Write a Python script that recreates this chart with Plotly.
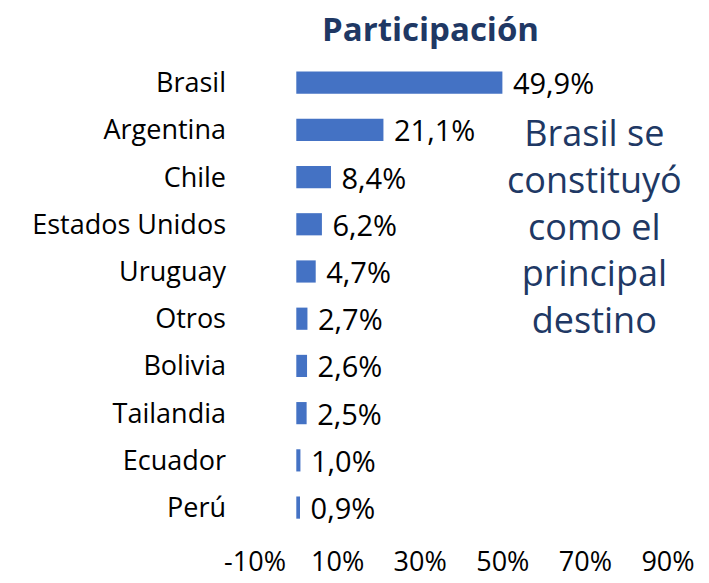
import plotly.graph_objects as go

countries = ["Brasil", "Argentina", "Chile", "Estados Unidos", "Uruguay",
             "Otros", "Bolivia", "Tailandia", "Ecuador", "Perú"]
shares = [49.9, 21.1, 8.4, 6.2, 4.7, 2.7, 2.6, 2.5, 1.0, 0.9]
tick_vals = [-10, 10, 30, 50, 70, 90]
tick_text = ["-10%", "10%", "30%", "50%", "70%", "90%"]
title_text = "Participación"
note_text = "Brasil se<br>constituyó<br>como el<br>principal<br>destino"

FONT = "'Open Sans', 'Noto Sans', sans-serif"

fig = go.Figure(go.Bar(
    x=shares, y=countries, orientation="h",
    marker=dict(color="#4472C4", line=dict(width=0)),
    width=0.47,
    texttemplate=" %{x:.1f}%", textposition="outside", cliponaxis=False,
    constraintext="none",
    textfont=dict(family=FONT, size=29, color="#000000"),
))

fig.update_layout(
    width=709, height=583,
    margin=dict(l=255, r=41, t=59, b=40, autoexpand=False),
    paper_bgcolor="white", plot_bgcolor="white",
    separators=",.",
    showlegend=False,
    font=dict(family=FONT, size=27, color="#000000"),
    xaxis=dict(range=[-10, 90], tickvals=tick_vals, ticktext=tick_text,
               showgrid=False, zeroline=False, showline=False, ticks="",
               automargin=False, tickfont=dict(size=27), ticklabelstandoff=0),
    yaxis=dict(categoryorder="array", categoryarray=countries,
               range=[9.75, -0.5], showgrid=False, zeroline=False,
               showline=False, ticks="", ticklabelstandoff=28,
               automargin=False, tickfont=dict(size=27)),
    annotations=[
        dict(text="<b>" + title_text + "</b>", xref="paper", yref="paper",
             x=0.426, y=1.062, showarrow=False, xanchor="center",
             yanchor="middle",
             font=dict(family=FONT, size=33, color="#1F3864")),
        dict(text=note_text, xref="paper", yref="paper",
             x=0.821, y=0.654, showarrow=False, xanchor="center",
             yanchor="middle", align="center",
             font=dict(family=FONT, size=36, color="#203864")),
    ],
)

fig.write_html("out.html",
               config={"displayModeBar": False},
               post_script="document.body.style.margin='0';"
                           "document.body.style.padding='0';")
